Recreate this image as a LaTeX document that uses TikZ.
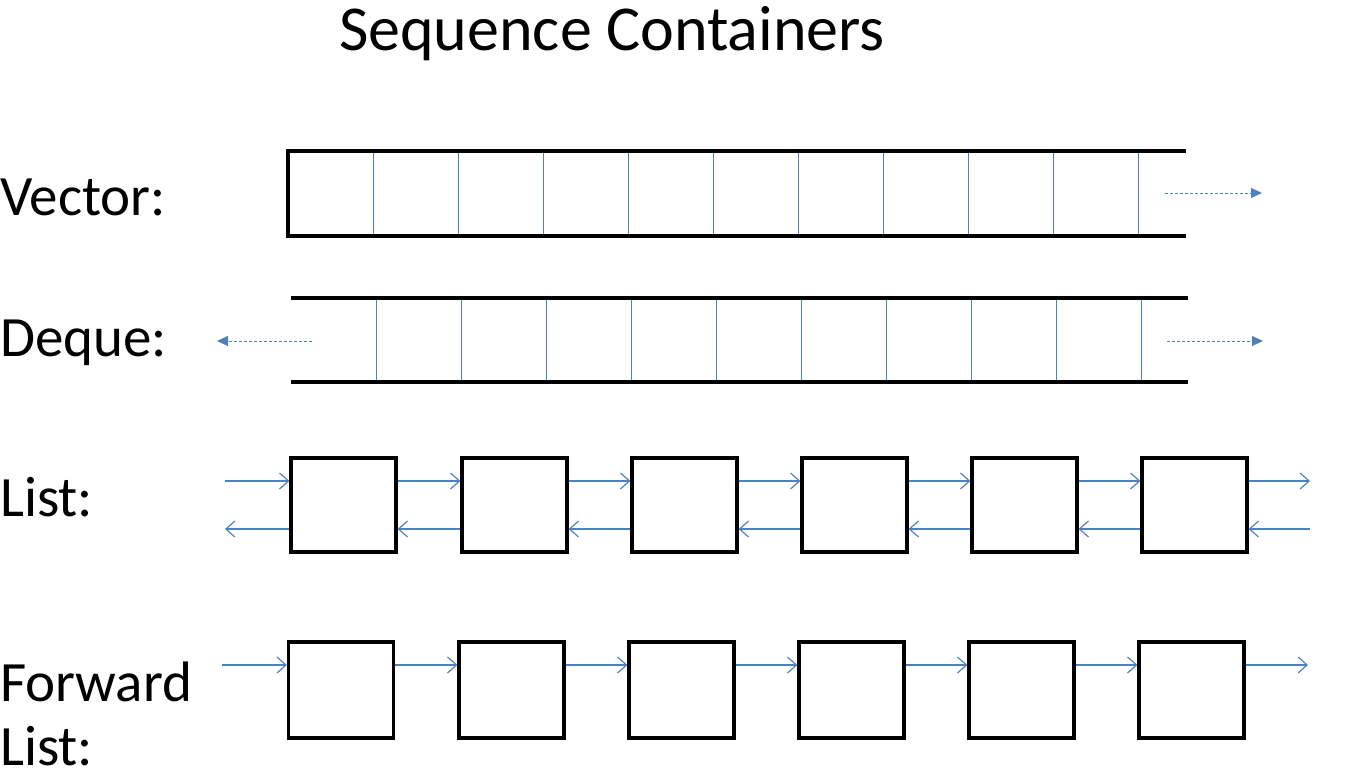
\documentclass[tikz,border=0pt]{standalone}
\usepackage{fontspec}
\setmainfont{Carlito}
\usetikzlibrary{arrows.meta}
\definecolor{lb}{RGB}{79,129,189}
\begin{document}
\begin{tikzpicture}[x=1pt,y=-1pt,
  thick/.style={line width=3.2pt,black},
  div/.style={line width=1pt,lb},
  dar/.style={lb,line width=0.9pt,dash pattern=on 3pt off 2pt,-{Triangle[length=11pt,width=10pt]}},
  bar/.style={lb,line width=1.2pt,-{Straight Barb[length=9pt,width=16pt]}},
  box/.style={draw,line width=3.2pt,minimum width=105pt,minimum height=94pt,inner sep=0pt},
  lab/.style={anchor=west,font=\fontsize{57}{60}\selectfont,inner sep=0pt}]
\useasboundingbox (0,0) rectangle (1355,784);
\node[font=\fontsize{64}{68}\selectfont] (title) at (612,34) {Sequence Containers};
\node[lab] (lv) at (0,197) {Vector:};
\node[lab] (ld) at (0,343) {Deque:};
\node[lab] (ll) at (0,497) {List:};
\node[lab] (lf1) at (0,682) {Forward};
\node[lab] (lf2) at (0,746) {List:};
% vector
\foreach \i in {1,...,10} \draw[div] ({288+85*\i},151) -- ({288+85*\i},236);
\draw[thick] (1186,151) -- (288,151) -- (288,236) -- (1186,236);
\coordinate (va) at (1165,193); \coordinate (vb) at (1262,193);
\draw[dar] (va) -- (vb);
% deque
\foreach \i in {1,...,10} \draw[div] ({291+85*\i},298) -- ({291+85*\i},382);
\draw[thick] (291,298) -- (1188,298);
\draw[thick] (291,382) -- (1188,382);
\coordinate (da) at (312,341); \coordinate (db) at (217,341);
\coordinate (dc) at (1167,341); \coordinate (dd) at (1263,341);
\draw[dar] (da) -- (db); \draw[dar] (dc) -- (dd);
% list
\foreach \i/\x in {1/343.5,2/514.5,3/684.5,4/854.5,5/1024.5,6/1194.5}
  \node[box] (l\i) at (\x,505) {};
\coordinate (ls1) at (225,481); \coordinate (ls2) at (225,529);
\coordinate (le1) at (1310,481); \coordinate (le2) at (1310,529);
\draw[bar] (ls1) -- (l1.west|-ls1);
\draw[bar] (l1.west|-ls2) -- (ls2);
\foreach \i/\j in {1/2,2/3,3/4,4/5,5/6}{
  \draw[bar] (l\i.east|-ls1) -- (l\j.west|-ls1);
  \draw[bar] (l\j.west|-ls2) -- (l\i.east|-ls2);}
\draw[bar] (l6.east|-le1) -- (le1);
\draw[bar] (le2) -- (l6.east|-le2);
% forward list
\foreach \i/\x in {1/341,2/511.5,3/681.5,4/851.5,5/1021.5,6/1191.5}
  \node[box,minimum height=96pt] (f\i) at (\x,690) {};
\coordinate (fs) at (222,665); \coordinate (fe) at (1308,665);
\draw[bar] (fs) -- (f1.west|-fs);
\foreach \i/\j in {1/2,2/3,3/4,4/5,5/6}
  \draw[bar] (f\i.east|-fs) -- (f\j.west|-fs);
\draw[bar] (f6.east|-fe) -- (fe);
\end{tikzpicture}
\end{document}
